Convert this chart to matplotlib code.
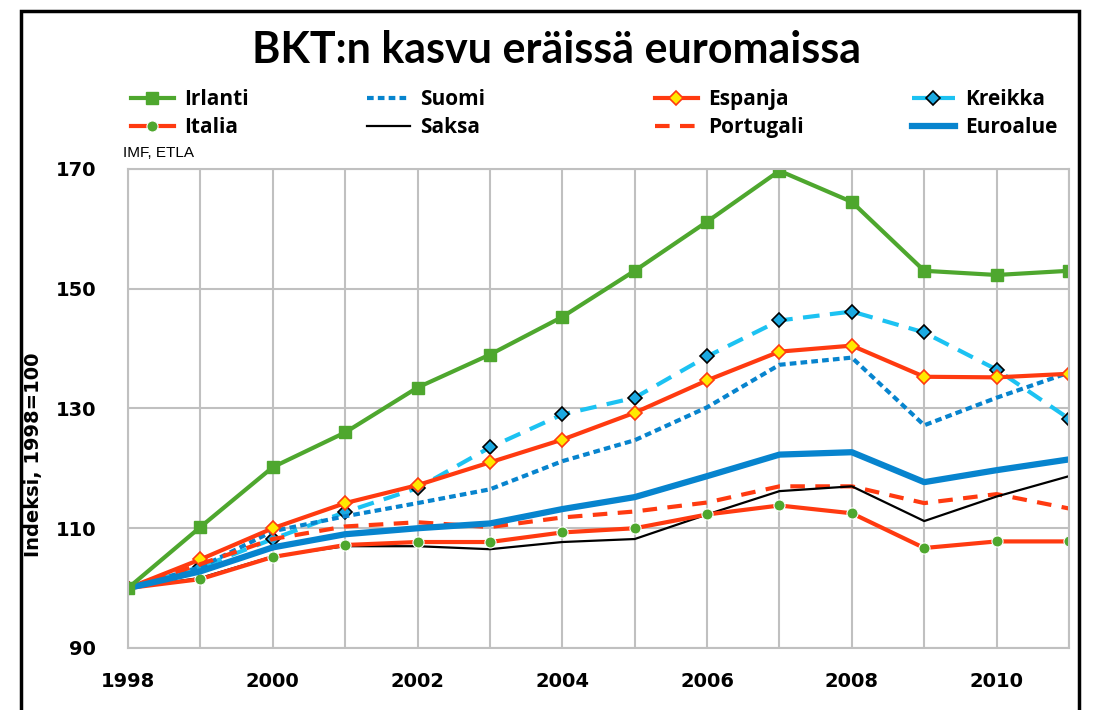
import matplotlib.pyplot as plt
import matplotlib.patches as patches

years = list(range(1998, 2012))

irlanti = [100, 110.2, 120.2, 126.0, 133.5, 139.0, 145.3, 153.0, 161.2, 169.7, 164.5, 153.0, 152.3, 153.0]
suomi = [100, 103.5, 109.5, 112.0, 114.2, 116.5, 121.2, 124.7, 130.2, 137.3, 138.5, 127.2, 131.8, 136.0]
espanja = [100, 104.8, 110.0, 114.2, 117.2, 121.0, 124.8, 129.3, 134.7, 139.5, 140.5, 135.3, 135.2, 135.8]
kreikka = [100, 103.5, 108.2, 112.7, 116.7, 123.5, 129.0, 131.8, 138.7, 144.7, 146.2, 142.7, 136.5, 128.3]
italia = [100, 101.5, 105.2, 107.2, 107.7, 107.7, 109.3, 110.0, 112.3, 113.8, 112.5, 106.7, 107.8, 107.8]
saksa = [100, 101.7, 105.3, 107.0, 107.0, 106.5, 107.7, 108.2, 112.3, 116.2, 117.0, 111.2, 115.3, 118.7]
portugali = [100, 104.0, 108.2, 110.3, 111.0, 110.2, 111.8, 112.8, 114.3, 117.0, 117.0, 114.2, 115.7, 113.3]
euroalue = [100, 102.8, 106.8, 109.0, 110.0, 110.8, 113.2, 115.2, 118.7, 122.3, 122.7, 117.7, 119.7, 121.5]

title = "BKT:n kasvu eräissä euromaissa"
ylabel = "Indeksi, 1998=100"
source = "IMF, ETLA"

green = "#4EA72E"
red = "#FF3A10"
blue = "#0784CE"
lightblue = "#1CC2F2"

fig = plt.figure(figsize=(10.96, 7.10), dpi=100)
ax = fig.add_axes([128 / 1096, 1 - 648 / 710, 941 / 1096, 479 / 710])

l_kre, = ax.plot(years, kreikka, color=lightblue, lw=3, ls=(0, (4, 2.5)), marker="D", ms=7,
                 mfc="#1BA9E1", mec="black", mew=1.2, label="Kreikka")
l_suo, = ax.plot(years, suomi, color=blue, lw=3, ls=(0, (1.6, 1)), label="Suomi")
l_esp, = ax.plot(years, espanja, color=red, lw=3, marker="D", ms=7,
                 mfc="#FFE800", mec=red, mew=1.2, label="Espanja")
l_por, = ax.plot(years, portugali, color=red, lw=3, ls=(0, (3.5, 2.5)), label="Portugali")
l_sak, = ax.plot(years, saksa, color="black", lw=1.6, label="Saksa")
l_ita, = ax.plot(years, italia, color=red, lw=3, marker="o", ms=8,
                 mfc=green, mec="white", mew=0.8, label="Italia")
l_eur, = ax.plot(years, euroalue, color=blue, lw=4.5, label="Euroalue")
l_irl, = ax.plot(years, irlanti, color=green, lw=3, marker="s", ms=9,
                 mfc=green, mec=green, label="Irlanti")

ax.set_xlim(1998, 2011)
ax.set_ylim(90, 170)
ax.set_yticks([90, 110, 130, 150, 170])
ax.set_xticks(range(1998, 2011, 2))
ax.set_xticks(years, minor=True)
ax.grid(True, which="both", color="#C0C0C0", lw=1.5)
ax.set_axisbelow(True)
for s in ax.spines.values():
    s.set_color("#C0C0C0")
    s.set_linewidth(1.5)
ax.tick_params(which="both", length=0)
ax.tick_params(axis="y", pad=23)
ax.tick_params(axis="x", pad=17)
for lab in ax.get_xticklabels() + ax.get_yticklabels():
    lab.set_fontsize(14)
    lab.set_fontweight("bold")
    lab.set_family("DejaVu Sans")

# one small legend per column, placed where the reference has them
columns = [([l_irl, l_ita], 131), ([l_suo, l_sak], 367), ([l_esp, l_por], 655), ([l_kre, l_eur], 912)]
for hs, x0 in columns:
    leg = fig.legend(handles=hs, labels=[h.get_label() for h in hs],
                     loc="upper left", bbox_to_anchor=(x0 / 1096, 1 - 89 / 710),
                     frameon=False, prop={"size": 15, "weight": "bold", "family": "Open Sans"},
                     handlelength=2.05, handletextpad=0.5,
                     labelspacing=0.33, borderaxespad=0, borderpad=0)

fig.text(556 / 1096, 1 - 63 / 710, title, ha="center", va="baseline",
         fontsize=31, fontweight="bold", family="Lato")
fig.text(34 / 1096, 1 - 455 / 710, ylabel, rotation=90, ha="center", va="center",
         fontsize=14, fontweight="bold", family="DejaVu Sans")
fig.text(123 / 1096, 1 - 153 / 710, source, ha="left", va="center", fontsize=11,
         family=["Liberation Sans", "DejaVu Sans"])

frame = patches.Rectangle((21 / 1096, -0.05), (1079 - 21) / 1096, 1 - 11 / 710 + 0.05,
                          transform=fig.transFigure, fill=False, ec="black", lw=2.5,
                          clip_on=False)
fig.patches.append(frame)

fig.savefig("out.png", dpi=100)
